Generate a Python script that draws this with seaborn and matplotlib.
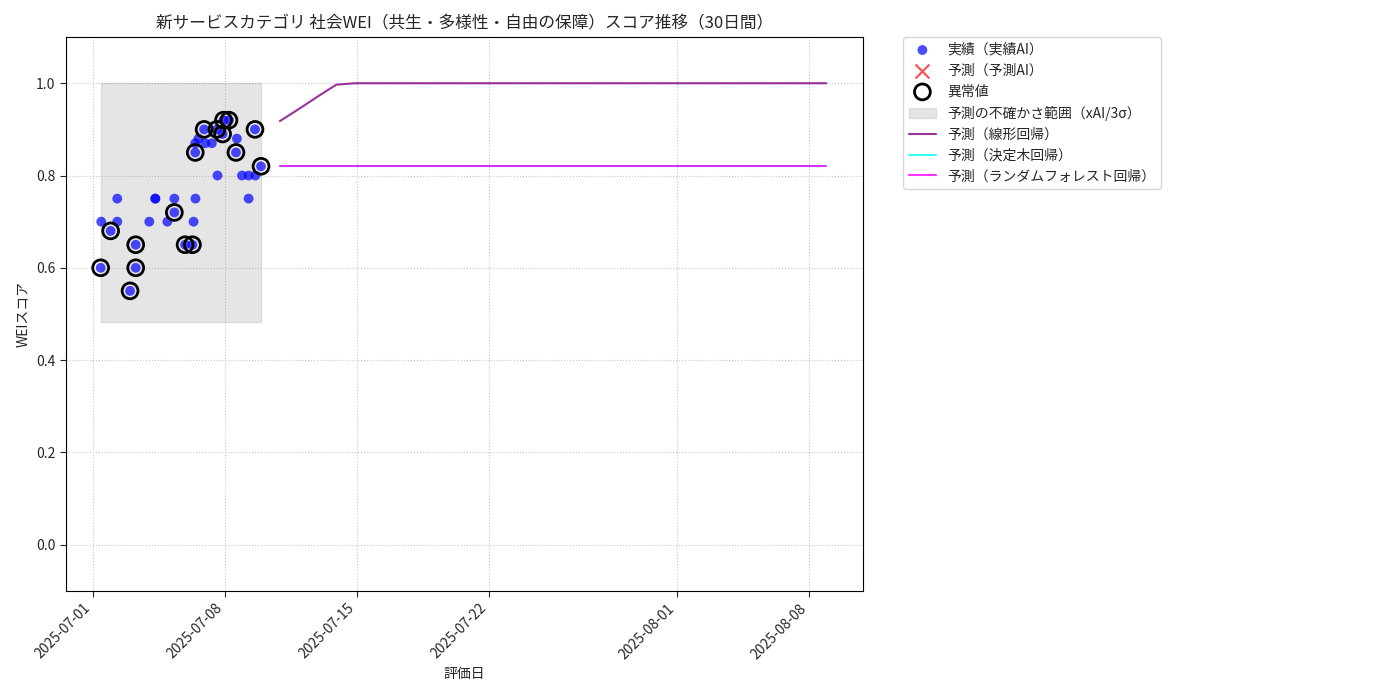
import matplotlib
matplotlib.use("Agg")
import matplotlib.pyplot as plt
import matplotlib.dates as mdates
import numpy as np
import pandas as pd
import seaborn as sns

# 実績データ（2025-07-01 0:00 からの経過日数, スコア）
actual_days = [0.41, 0.44, 0.94, 1.29, 1.29, 1.97, 2.27, 2.27, 2.99, 3.30,
               3.32, 3.95, 4.32, 4.32, 4.89, 5.28, 5.34, 5.44, 5.43, 5.43,
               5.60, 5.90, 5.96, 6.31, 6.58, 6.61, 6.93, 6.88, 7.22, 7.59,
               7.64, 7.91, 8.26, 8.26, 8.60, 8.62, 8.92]
actual_scores = [0.60, 0.70, 0.68, 0.75, 0.70, 0.55, 0.65, 0.60, 0.70, 0.75,
                 0.75, 0.70, 0.75, 0.72, 0.65, 0.65, 0.70, 0.75, 0.85, 0.87,
                 0.88, 0.90, 0.87, 0.87, 0.90, 0.80, 0.92, 0.89, 0.92, 0.85,
                 0.88, 0.80, 0.80, 0.75, 0.90, 0.80, 0.82]
outlier_flags = [1, 0, 1, 0, 0, 1, 1, 1, 0, 0,
                 0, 0, 0, 1, 1, 1, 0, 0, 1, 0,
                 0, 1, 0, 0, 1, 0, 1, 1, 1, 1,
                 0, 0, 0, 0, 1, 0, 1]

# 予測AI（このグラフでは点なし）
pred_ai_days = []
pred_ai_scores = []

# 不確かさ範囲
band_low = 0.483
band_high = 1.0

# 回帰予測（30日間, 1日刻み）
forecast_start_day = 9.92
linear_pred = [0.918, 0.944, 0.971, 0.997] + [1.0] * 26
tree_pred = [0.82] * 30
forest_pred = [0.82] * 30

base = pd.Timestamp("2025-07-01")
actual = pd.DataFrame({
    "date": base + pd.to_timedelta(actual_days, unit="D"),
    "score": actual_scores,
    "outlier": outlier_flags,
})
pred_ai = pd.DataFrame({
    "date": pd.to_datetime(base + pd.to_timedelta(pred_ai_days, unit="D")),
    "score": pd.Series(pred_ai_scores, dtype=float),
})
fdates = base + pd.to_timedelta(forecast_start_day + np.arange(30), unit="D")
forecast = pd.DataFrame({"date": fdates, "linear": linear_pred,
                         "tree": tree_pred, "forest": forest_pred})

sns.set_style("white")
plt.rcParams["font.family"] = ["Noto Sans CJK JP", "DejaVu Sans"]

fig, ax = plt.subplots(figsize=(14, 7), dpi=100)

sns.scatterplot(data=actual, x="date", y="score", color="blue", alpha=0.7,
                s=50, edgecolor="none", label="実績（実績AI）", ax=ax, zorder=3)
ax.scatter(pred_ai["date"], pred_ai["score"], color="red", alpha=0.7,
           marker="x", s=100, label="予測（予測AI）")
out = actual[actual["outlier"] == 1]
ax.scatter(out["date"], out["score"], facecolors="none", edgecolors="black",
           s=130, linewidths=2, label="異常値", zorder=4)
ax.fill_between([actual["date"].min(), actual["date"].max()],
                band_low, band_high, color="gray", alpha=0.2,
                label="予測の不確かさ範囲（xAI/3σ）", zorder=1)
sns.lineplot(data=forecast, x="date", y="linear", color="purple", alpha=0.8,
             label="予測（線形回帰）", ax=ax)
sns.lineplot(data=forecast, x="date", y="tree", color="cyan", alpha=0.8,
             label="予測（決定木回帰）", ax=ax)
sns.lineplot(data=forecast, x="date", y="forest", color="magenta", alpha=0.8,
             label="予測（ランダムフォレスト回帰）", ax=ax)

ax.set_ylim(-0.1, 1.1)
ax.set_xlim(base - pd.Timedelta(days=1.44), base + pd.Timedelta(days=40.87))
ax.set_xticks(pd.to_datetime(["2025-07-01", "2025-07-08", "2025-07-15",
                              "2025-07-22", "2025-08-01", "2025-08-08"]))
ax.xaxis.set_major_formatter(mdates.DateFormatter("%Y-%m-%d"))
plt.setp(ax.get_xticklabels(), rotation=45, ha="right")
ax.tick_params(axis="both", length=4, direction="out", bottom=True, left=True)
ax.grid(True, linestyle=":", color="#b0b0b0", alpha=0.7)
for sp in ax.spines.values():
    sp.set_color("black")

ax.set_title("新サービスカテゴリ 社会WEI（共生・多様性・自由の保障）スコア推移（30日間）")
ax.set_xlabel("評価日")
ax.set_ylabel("WEIスコア")

handles, labels = ax.get_legend_handles_labels()
order = ["実績（実績AI）", "予測（予測AI）", "異常値", "予測の不確かさ範囲（xAI/3σ）",
         "予測（線形回帰）", "予測（決定木回帰）", "予測（ランダムフォレスト回帰）"]
hmap = dict(zip(labels, handles))
ax.legend([hmap[k] for k in order], order, bbox_to_anchor=(1.05, 1),
          loc="upper left", borderaxespad=0.0)

fig.subplots_adjust(left=0.047, right=0.6165, top=0.947, bottom=0.156)
fig.savefig("out.png")
